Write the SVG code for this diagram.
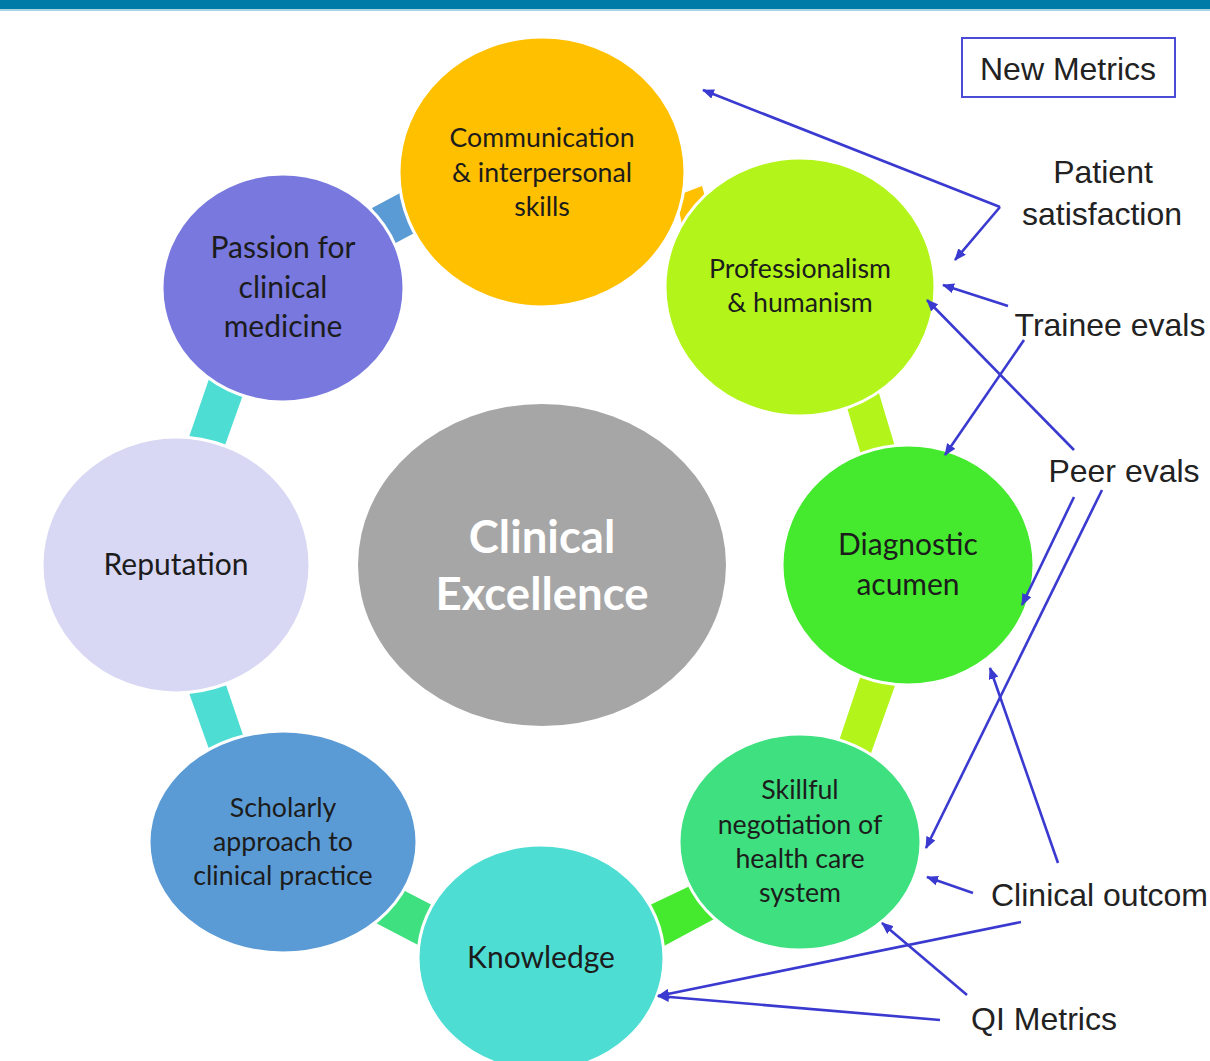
<svg xmlns="http://www.w3.org/2000/svg" width="1210" height="1061" viewBox="0 0 1210 1061">
  <defs>
    <marker id="head" viewBox="0 0 12 10" refX="11" refY="5" markerWidth="12" markerHeight="10" markerUnits="userSpaceOnUse" orient="auto">
      <path d="M0,0 L12,5 L0,10 Z" fill="#3a3ad0"/>
    </marker>
    <style>
      .node { stroke: #ffffff; stroke-width: 3; }
      .lbl { font-family: Lato, "Noto Sans", sans-serif; fill: #1c1c1c; text-anchor: middle; }
      .sm { font-size: 26.7px; }
      .lg { font-size: 30px; }
      .metric { font-family: "Liberation Sans", Arial, sans-serif; font-size: 32px; fill: #222222; text-anchor: middle; }
      .arrow { fill: none; stroke: #3a3ad0; stroke-width: 2.6; marker-end: url(#head); }
    </style>
  </defs>

  <rect width="1210" height="1061" fill="#ffffff"/>
  <!-- header band -->
  <rect x="0" y="0" width="1210" height="9" fill="#007ba7"/>
  <rect x="0" y="9" width="1210" height="2" fill="#a9d4e4"/>

  <!-- ring segments joining the outer nodes -->
  <g id="ring">
    <polygon points="372,208 402,192 420,230 390,246" fill="#5b9bd5"/>
    <polygon points="676,196 702,186 712,222 684,234" fill="#ffc000"/>
    <polygon points="846,404 878,390 896,450 862,458" fill="#b3f51a"/>
    <polygon points="862,672 897,680 870,756 838,744" fill="#b3f51a"/>
    <polygon points="650,905 690,886 716,918 664,946" fill="#45ea2e"/>
    <polygon points="403,890 432,905 420,946 374,922" fill="#3ee07f"/>
    <polygon points="188,690 225,682 244,738 210,752" fill="#4dddd3"/>
    <polygon points="210,376 244,392 224,448 188,440" fill="#4dddd3"/>
  </g>

  <g id="node-center">
    <ellipse cx="542" cy="565" rx="184" ry="161" fill="#a6a6a6"/>
    <text x="542" y="553" font-family="Lato, 'Noto Sans', sans-serif" font-weight="bold" font-size="45.5" fill="#ffffff" text-anchor="middle">Clinical</text>
    <text x="542" y="610" font-family="Lato, 'Noto Sans', sans-serif" font-weight="bold" font-size="45.5" fill="#ffffff" text-anchor="middle">Excellence</text>
  </g>

  <g id="node-communication">
    <ellipse class="node" cx="542" cy="172" rx="143" ry="135" fill="#ffc000"/>
    <text class="lbl sm" x="542" y="147">Communication</text>
    <text class="lbl sm" x="542" y="182">&amp; interpersonal</text>
    <text class="lbl sm" x="542" y="216">skills</text>
  </g>

  <g id="node-professionalism">
    <ellipse class="node" cx="800" cy="287" rx="135" ry="129" fill="#b3f51a"/>
    <text class="lbl sm" x="800" y="278">Professionalism</text>
    <text class="lbl sm" x="800" y="312">&amp; humanism</text>
  </g>

  <g id="node-diagnostic">
    <ellipse class="node" cx="908" cy="565" rx="126" ry="120" fill="#45ea2e"/>
    <text class="lbl lg" x="908" y="555">Diagnostic</text>
    <text class="lbl lg" x="908" y="595">acumen</text>
  </g>

  <g id="node-negotiation">
    <ellipse class="node" cx="800" cy="842" rx="121" ry="108" fill="#3ee07f"/>
    <text class="lbl sm" x="800" y="799">Skillful</text>
    <text class="lbl sm" x="800" y="834">negotiation of</text>
    <text class="lbl sm" x="800" y="868">health care</text>
    <text class="lbl sm" x="800" y="902">system</text>
  </g>

  <g id="node-knowledge">
    <ellipse class="node" cx="541" cy="958" rx="123" ry="113" fill="#4dddd3"/>
    <text class="lbl lg" x="541" y="968">Knowledge</text>
  </g>

  <g id="node-scholarly">
    <ellipse class="node" cx="283" cy="842" rx="134" ry="111" fill="#5b9bd5"/>
    <text class="lbl sm" x="283" y="817">Scholarly</text>
    <text class="lbl sm" x="283" y="851">approach to</text>
    <text class="lbl sm" x="283" y="885">clinical practice</text>
  </g>

  <g id="node-reputation">
    <ellipse class="node" cx="176" cy="565" rx="134" ry="128" fill="#d8d8f4"/>
    <text class="lbl lg" x="176" y="575">Reputation</text>
  </g>

  <g id="node-passion">
    <ellipse class="node" cx="283" cy="288" rx="121" ry="114" fill="#7878de"/>
    <text class="lbl lg" x="283" y="258">Passion for</text>
    <text class="lbl lg" x="283" y="298">clinical</text>
    <text class="lbl lg" x="283" y="337">medicine</text>
  </g>

  <!-- metric labels -->
  <g id="node-new-metrics">
    <rect x="962" y="38" width="213" height="59" fill="none" stroke="#4b4bd6" stroke-width="2"/>
    <text class="metric" x="1068" y="80">New Metrics</text>
  </g>
  <g id="node-patient-satisfaction">
    <text class="metric" x="1103" y="183">Patient</text>
    <text class="metric" x="1102" y="225">satisfaction</text>
  </g>
  <g id="node-trainee-evals">
    <text class="metric" x="1110" y="336">Trainee evals</text>
  </g>
  <g id="node-peer-evals">
    <text class="metric" x="1124" y="482">Peer evals</text>
  </g>
  <g id="node-clinical-outcomes">
    <text class="metric" x="991" y="906" style="text-anchor:start">Clinical outcom</text>
  </g>
  <g id="node-qi-metrics">
    <text class="metric" x="1044" y="1030">QI Metrics</text>
  </g>

  <!-- connectors from metrics to the nodes they measure -->
  <g id="connectors">
    <path class="arrow" d="M1000,207 L703,90"/>
    <path class="arrow" d="M1000,207 L955,260"/>
    <path class="arrow" d="M1008,306 L943,285"/>
    <path class="arrow" d="M1024,340 L945,455"/>
    <path class="arrow" d="M1074,450 L927,300"/>
    <path class="arrow" d="M1074,497 L1022,605"/>
    <path class="arrow" d="M1102,490 L926,848"/>
    <path class="arrow" d="M1058,863 L990,668"/>
    <path class="arrow" d="M973,893 L927,877"/>
    <path class="arrow" d="M1021,922 L658,996"/>
    <path class="arrow" d="M967,995 L882,923"/>
    <path class="arrow" d="M940,1020 L658,996"/>
  </g>
</svg>
